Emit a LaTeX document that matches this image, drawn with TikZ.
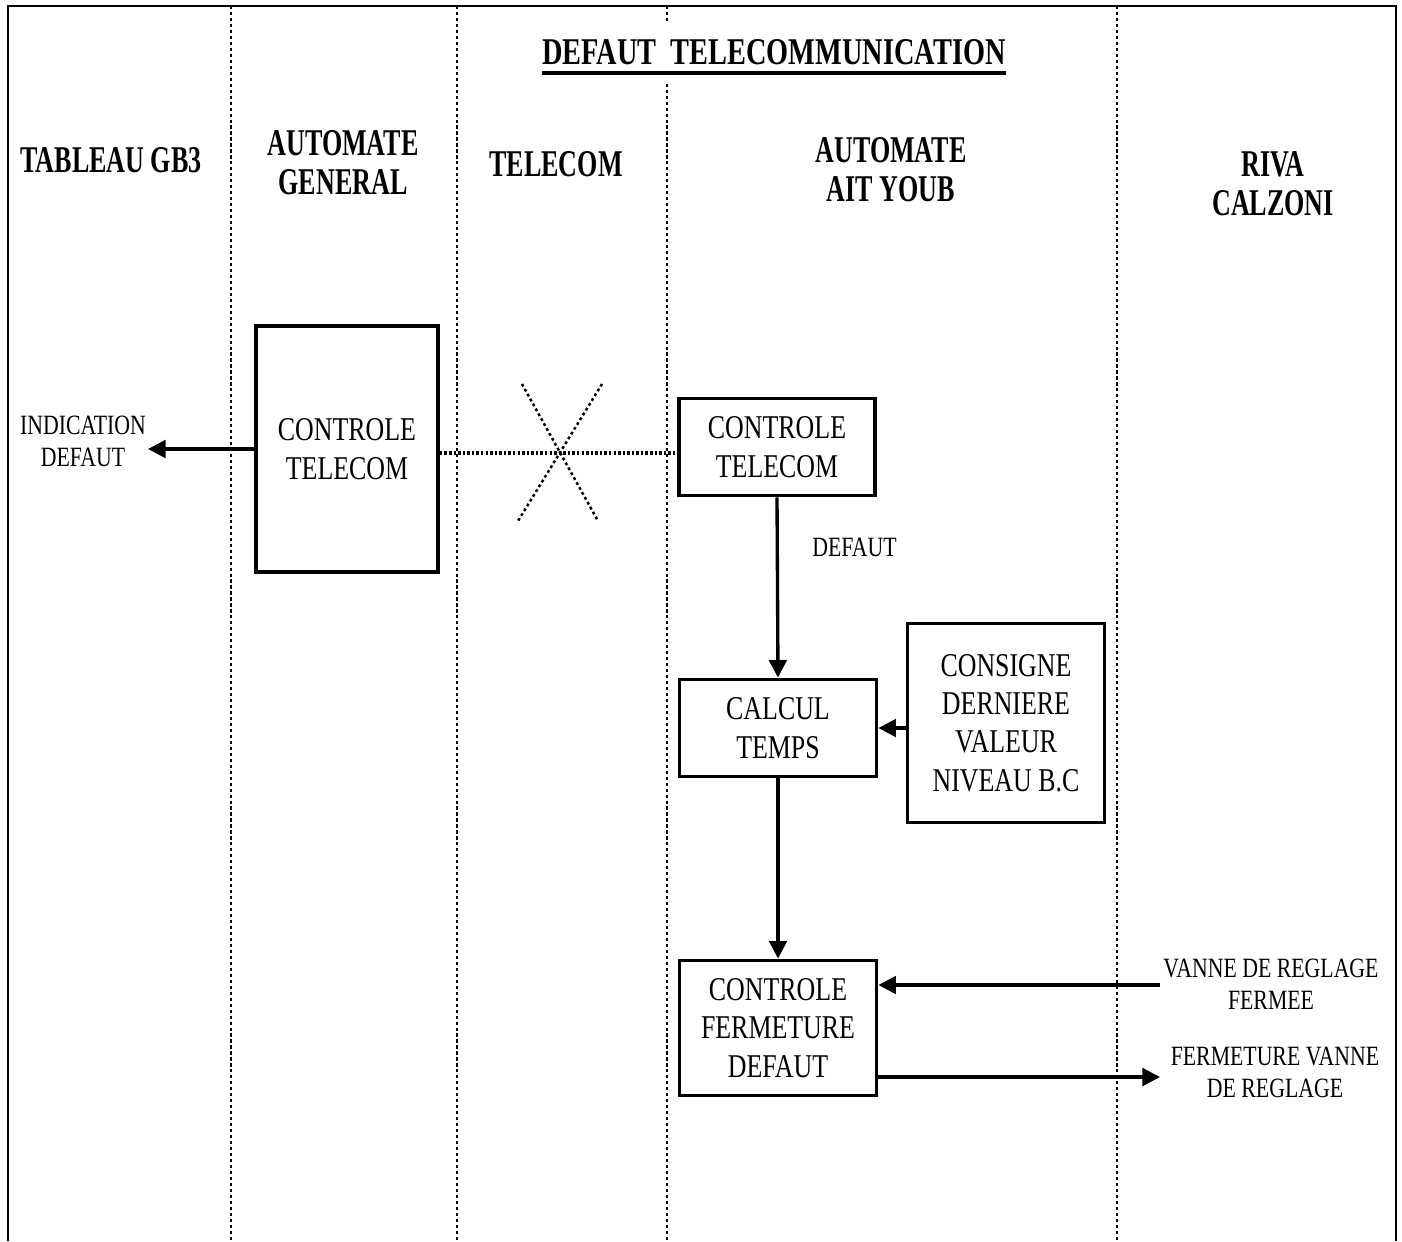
\documentclass[tikz,border=0pt]{standalone}
\usepackage{fontspec}
\setmainfont{Liberation Serif}[FakeStretch=0.78]
\newfontfamily\headfont{Liberation Serif}[FakeStretch=0.69]
\newfontfamily\titlefont{Liberation Serif}[FakeStretch=0.75]
\usetikzlibrary{arrows.meta}

\begin{document}
\begin{tikzpicture}[x=0.02cm,y=-0.02cm,font=\fontsize{18.9}{21.9}\selectfont]
        \tikzstyle{lane}=[line width=1.4pt,dash pattern=on 1.8pt off 1.6pt]
        \tikzstyle{box}=[draw,line width=2.2pt,align=center,inner sep=0]
        \tikzstyle{head}=[align=center,font=\headfont\fontsize{21.5}{22.2}\selectfont\bfseries]
        \tikzstyle{small}=[align=center,font=\fontsize{15.9}{18.2}\selectfont]
        \tikzstyle{arr}=[line width=1.9pt,-{Triangle[length=10pt,width=10pt]}]
        \tikzstyle{cut}=[line width=1.4pt,dash pattern=on 1.6pt off 1.6pt]

        \useasboundingbox (0,0) rectangle (1402,1241);
        % cadre et couloirs
        \draw[line width=1.3pt] (8,1241) -- (8,6) -- (1396,6) -- (1396,1241);
        \foreach \x in {231,457,667,1117}
            \draw[lane] (\x,6) -- (\x,1241);

        % titre et en-tetes
        \node(titre)[head,font=\titlefont\fontsize{21.5}{22}\selectfont\bfseries,fill=white,inner xsep=0,inner ysep=0.34cm] at (774,52) {DEFAUT\ \ TELECOMMUNICATION};
        \draw[line width=2.2pt] ([yshift=-5pt]titre.base west) -- ([yshift=-5pt]titre.base east);
        \node(h1)[head] at (111,160) {TABLEAU GB3};
        \node(h2)[head] at (343,163) {AUTOMATE\\GENERAL};
        \node(h3)[head] at (556,164) {TELECOM};
        \node(h4)[head] at (891,170) {AUTOMATE\\AIT YOUB};
        \node(h5)[head] at (1273,184) {RIVA\\CALZONI};

        % blocs
        \node(ct1)[box,minimum width=3.64cm,minimum height=4.92cm] at (347,449) {CONTROLE\\TELECOM};
        \node(ct2)[box,minimum width=3.92cm,minimum height=1.94cm] at (777,447) {CONTROLE\\TELECOM};
        \node(calc)[box,minimum width=3.94cm,minimum height=1.94cm] at (778,728) {CALCUL\\TEMPS};
        \node(cons)[box,minimum width=3.94cm,minimum height=3.98cm] at (1006,723) {CONSIGNE\\DERNIERE\\VALEUR\\NIVEAU B.C};
        \node(cfd)[box,minimum width=3.94cm,minimum height=2.70cm] at (778,1028) {CONTROLE\\FERMETURE\\DEFAUT};

        % textes libres
        \node(ind)[small] at (83,441) {INDICATION\\DEFAUT};
        \node(vf)[small] at (1271,984) {VANNE DE REGLAGE\\FERMEE};
        \node(fv)[small] at (1275,1072) {FERMETURE VANNE\\DE REGLAGE};
        \coordinate (ia) at (148,449);
        \coordinate (va) at (1160,985);
        \coordinate (fa) at (1160,1077);

        % liaisons
        \draw[arr] (ct1.west) -- (ia);
        \draw[line width=2pt,dash pattern=on 1.4pt off 1.2pt] (ct1.east |- 0,453) -- (ct2.west |- 0,453);
        \draw[cut] (522,384) -- (598,521);
        \draw[cut] (602,384) -- (518,521);
        \draw[arr] (ct2.south) -- node[small,pos=0.28,anchor=west,xshift=0.55cm]{DEFAUT} (calc.north);
        \draw[arr] (cons.west |- calc.east) -- (calc.east);
        \draw[arr] (calc.south) -- (cfd.north);
        \draw[arr] (va) -- (va -| cfd.east);
        \draw[arr] (fa -| cfd.east) -- (fa);
    \end{tikzpicture}
\end{document}
